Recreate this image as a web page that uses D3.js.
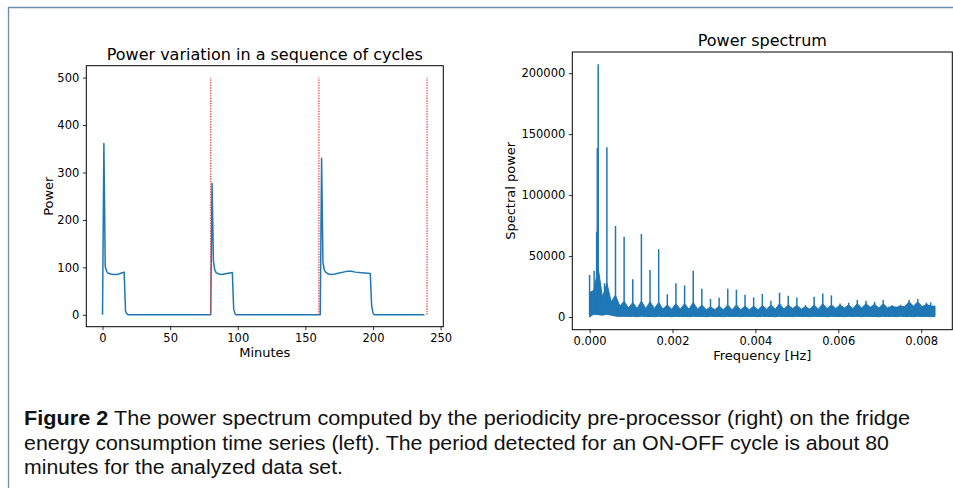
<!DOCTYPE html>
<html>
<head>
<meta charset="utf-8">
<script src="https://cdn.jsdelivr.net/npm/d3@7"></script>
<style>
  body { margin: 0; background: #fff; }
  svg text { font-family: "DejaVu Sans", sans-serif; fill: #000; }
  .caption text { font-family: "Liberation Sans", sans-serif; fill: #111; }
</style>
</head>
<body>
<div id="fig"></div>
<script>
// ---- left panel: fridge power, one value per minute (only the points where it changes)
var minutes = [0, 1, 2, 3, 4, 6, 8, 10, 12, 14, 16, 17, 18, 19,
               80, 81, 82, 83, 84, 86, 88, 90, 92, 94, 96, 97, 98, 99,
               161, 162, 163, 164, 165, 167, 169, 172, 175, 178, 181, 184, 187, 190, 194, 198, 199, 200, 201,
               238];
var power = [0, 361, 102, 92, 88, 86, 85, 85, 86, 88, 90, 8, 2, 0,
             0, 277, 113, 95, 89, 86, 85, 86, 87, 88, 89, 12, 2, 0,
             0, 330, 110, 95, 90, 86, 85, 86, 88, 90, 92, 92, 90, 89, 88, 87, 20, 4, 0,
             0];
var cycleStarts = [80, 160, 240];
var powerTicks = [0, 100, 200, 300, 400, 500];
var minuteTicks = [0, 50, 100, 150, 200, 250];

// ---- right panel: power spectrum
// noise band every half harmonic (1/9600 Hz)
var bandFreq = [0, 0.000104, 0.000208, 0.000313, 0.000417, 0.000521, 0.000625, 0.000729, 0.000833, 0.000938,
                0.001042, 0.001146, 0.00125, 0.001354, 0.001458, 0.001563, 0.001667, 0.001771, 0.001875, 0.001979,
                0.002083, 0.002188, 0.002292, 0.002396, 0.0025, 0.002604, 0.002708, 0.002813, 0.002917, 0.003021,
                0.003125, 0.003229, 0.003333, 0.003438, 0.003542, 0.003646, 0.00375, 0.003854, 0.003958, 0.004063,
                0.004167, 0.004271, 0.004375, 0.004479, 0.004583, 0.004688, 0.004792, 0.004896, 0.005, 0.005104,
                0.005208, 0.005313, 0.005417, 0.005521, 0.005625, 0.005729, 0.005833, 0.005938, 0.006042, 0.006146,
                0.00625, 0.006354, 0.006458, 0.006563, 0.006667, 0.006771, 0.006875, 0.006979, 0.007083, 0.007188,
                0.007292, 0.007396, 0.0075, 0.007604, 0.007708, 0.007813, 0.007917, 0.008021, 0.008125, 0.008229,
                0.008333];
var bandTop = [20000, 22000, 40000, 16000, 28000, 12500, 18000, 9000, 13000, 7500,
               12000, 7000, 13000, 7000, 12500, 7000, 12000, 6500, 10000, 6500,
               11000, 6500, 11000, 6500, 12000, 6500, 10000, 6000, 8500, 6000,
               9000, 6000, 10000, 6000, 10000, 6000, 9000, 6000, 9000, 6000,
               9500, 6500, 10000, 6500, 11000, 6500, 10000, 7000, 9500, 6500,
               8500, 6500, 10000, 6500, 11000, 7000, 10000, 7000, 10000, 7500,
               10000, 7000, 11000, 7500, 11000, 8000, 10500, 7500, 11000, 7500,
               9000, 8000, 9000, 8500, 12500, 9000, 12500, 8500, 10500, 9000,
               9000];
var bandLow = [0, 2500, 2000, 1500, 2500, 1500, 800, 500, 700, 400,
               600, 300, 700, 400, 500, 300, 600, 400, 500, 300,
               600, 400, 500, 300, 600, 400, 500, 300, 600, 400,
               500, 300, 600, 400, 500, 300, 600, 400, 500, 300,
               600, 400, 500, 300, 600, 400, 500, 300, 600, 400,
               500, 300, 600, 400, 500, 300, 600, 400, 500, 300,
               600, 400, 500, 300, 600, 400, 500, 300, 600, 400,
               500, 300, 600, 400, 500, 300, 600, 400, 500, 300,
               600];
// sharp peaks (mostly the harmonics of the 80 minute cycle)
var peakFreq = [0, 0.00011, 0.00017, 0.000186, 0.000208, 0.000235, 0.00036, 0.000417,
                0.000625, 0.000833, 0.001042, 0.00125, 0.001458, 0.001667, 0.001875, 0.002083,
                0.002292, 0.0025, 0.002708, 0.002917, 0.003125, 0.003333, 0.003542, 0.00375,
                0.003958, 0.004167, 0.004375, 0.004583, 0.004792, 0.005, 0.005208, 0.005417,
                0.005625, 0.005833, 0.006042, 0.00625, 0.006458, 0.006667, 0.006875, 0.007083,
                0.007292, 0.0075, 0.007708, 0.007917, 0.008125, 0.008229];
var peakPower = [34500, 38000, 70000, 138500, 207300, 28000, 27700, 139200,
                 74700, 65900, 31000, 68100, 38600, 55600, 18700, 27700,
                 26000, 38000, 23300, 14800, 15900, 23300, 22400, 18300,
                 16100, 18900, 13400, 20000, 17500, 16100, 9850, 16700,
                 19400, 17800, 11200, 11800, 14000, 13400, 12600, 14000,
                 9600, 10100, 14000, 14800, 11800, 12000];
var freqTicks = [0, 0.002, 0.004, 0.006, 0.008];
var specTicks = [0, 50000, 100000, 150000, 200000];

var caption = [
  ["Figure 2", " The power spectrum computed by the periodicity pre-processor (right) on the fridge"],
  ["", "energy consumption time series (left). The period detected for an ON-OFF cycle is about 80"],
  ["", "minutes for the analyzed data set."]
];

var W = 953, H = 488;
var blue = "#1f77b4";

var svg = d3.select("#fig").append("svg")
    .attr("width", W).attr("height", H)
    .style("display", "block");

svg.append("rect").attr("width", W).attr("height", H).attr("fill", "#fff");

// page frame
svg.append("path")
    .attr("d", "M8.5," + H + " V7.5 H" + W)
    .attr("fill", "none")
    .attr("stroke", "#6f8db0")
    .attr("stroke-width", 1.3);

function panel(box, xs, ys, xt, yt, xfmt, title, xlab, ylab, ylabX) {
  var g = svg.append("g");
  g.append("g")
    .attr("transform", "translate(0," + box.bottom + ")")
    .call(d3.axisBottom(xs).tickValues(xt).tickFormat(xfmt).tickSize(3.5).tickPadding(3.5))
    .call(a => a.select(".domain").remove());
  g.append("g")
    .attr("transform", "translate(" + box.left + ",0)")
    .call(d3.axisLeft(ys).tickValues(yt).tickFormat(d3.format("d")).tickSize(3.5).tickPadding(3.5))
    .call(a => a.select(".domain").remove());
  g.selectAll(".tick text").attr("font-size", 11.5).attr("font-family", "DejaVu Sans").attr("fill", "#000");
  g.selectAll(".tick line").attr("stroke", "#000").attr("stroke-width", 0.8);
  g.append("text")
    .attr("x", (box.left + box.right) / 2).attr("y", box.top - 6)
    .attr("text-anchor", "middle").attr("font-size", 16)
    .text(title);
  g.append("text")
    .attr("x", (box.left + box.right) / 2).attr("y", box.bottom + 30)
    .attr("text-anchor", "middle").attr("font-size", 13)
    .text(xlab);
  g.append("text")
    .attr("transform", "translate(" + ylabX + "," + ((box.top + box.bottom) / 2) + ") rotate(-90)")
    .attr("text-anchor", "middle").attr("font-size", 13)
    .text(ylab);
  return g;
}

// ---------- left panel
var L = {left: 86.3, right: 443.3, top: 65.7, bottom: 326.7};
var x1 = d3.scaleLinear().domain([-12, 252]).range([L.left, L.right]);
var y1 = d3.scaleLinear().domain([-25, 525]).range([L.bottom, L.top]);
var g1 = panel(L, x1, y1, minuteTicks, powerTicks, d3.format("d"),
               "Power variation in a sequence of cycles", "Minutes", "Power", 53);

g1.append("path")
    .datum(d3.range(minutes.length))
    .attr("fill", "none")
    .attr("stroke", blue)
    .attr("stroke-width", 1.5)
    .attr("stroke-linejoin", "round")
    .attr("d", d3.line().x(i => x1(minutes[i])).y(i => y1(power[i])));

g1.selectAll(".cyc").data(cycleStarts).enter().append("line")
    .attr("x1", d => x1(d)).attr("x2", d => x1(d))
    .attr("y1", y1(0)).attr("y2", y1(500))
    .attr("stroke", "#f03c3c")
    .attr("stroke-width", 1.3)
    .attr("stroke-dasharray", "1.3,1.3");

g1.append("rect")
    .attr("x", L.left).attr("y", L.top)
    .attr("width", L.right - L.left).attr("height", L.bottom - L.top)
    .attr("fill", "none").attr("stroke", "#000").attr("stroke-width", 1);

// ---------- right panel
var R = {left: 572.3, right: 952.3, top: 52, bottom: 329.7};
var x2 = d3.scaleLinear().domain([-0.000417, 0.00875]).range([R.left, R.right]);
var y2 = d3.scaleLinear().domain([-10350, 217350]).range([R.bottom, R.top]);
var g2 = panel(R, x2, y2, freqTicks, specTicks, d3.format(".3f"),
               "Power spectrum", "Frequency [Hz]", "Spectral power", 515);

g2.append("path")
    .datum(d3.range(bandFreq.length))
    .attr("fill", blue)
    .attr("stroke", blue)
    .attr("stroke-width", 1)
    .attr("stroke-linejoin", "round")
    .attr("d", d3.area()
        .x(i => x2(bandFreq[i]))
        .y0(i => y2(bandLow[i]))
        .y1(i => y2(bandTop[i])));

g2.selectAll(".peak").data(d3.range(peakFreq.length)).enter().append("line")
    .attr("x1", i => x2(peakFreq[i])).attr("x2", i => x2(peakFreq[i]))
    .attr("y1", y2(2000)).attr("y2", i => y2(peakPower[i]))
    .attr("stroke", blue)
    .attr("stroke-width", 1.5);

g2.append("rect")
    .attr("x", R.left).attr("y", R.top)
    .attr("width", R.right - R.left).attr("height", R.bottom - R.top)
    .attr("fill", "none").attr("stroke", "#000").attr("stroke-width", 1);

// ---------- caption
var cap = svg.append("g").attr("class", "caption");
var capEnds = [910, 889, 343];
caption.forEach(function(line, k) {
  var t = cap.append("text")
      .attr("x", 24).attr("y", 425 + k * 24.5)
      .attr("font-size", 20.5)
      .attr("textLength", capEnds[k] - 24)
      .attr("lengthAdjust", "spacingAndGlyphs");
  if (line[0]) t.append("tspan").attr("font-weight", "bold").text(line[0]);
  t.append("tspan").text(line[1]);
});
</script>
</body>
</html>
